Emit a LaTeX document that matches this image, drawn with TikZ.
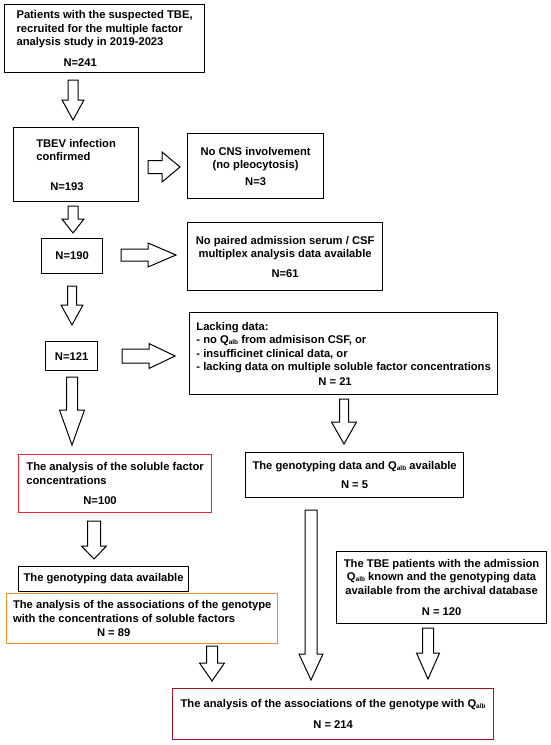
\documentclass[tikz,border=0pt]{standalone}
\usepackage{fontspec}
\setmainfont{Liberation Sans}
\usetikzlibrary{calc}

\definecolor{boxred}{HTML}{E8262F}
\definecolor{boxorange}{HTML}{F78A26}
\definecolor{boxdark}{HTML}{A0142A}

\newcommand{\qalb}{Q\raisebox{-0.15ex}{\fontsize{6.5}{6.5}\selectfont alb}}

% hollow block arrows: start, end, shaft half width, head half width, head length
\newcommand{\downblock}[5]{%
  \draw[blockarrow] let \p1=(#1), \p2=(#2) in
    (\x1-#3,\y1) -- (\x1+#3,\y1) -- (\x1+#3,\y2+#5) -- (\x1+#4,\y2+#5)
    -- (\x1,\y2) -- (\x1-#4,\y2+#5) -- (\x1-#3,\y2+#5) -- cycle;}
\newcommand{\rightblock}[5]{%
  \draw[blockarrow] let \p1=(#1), \p2=(#2) in
    (\x1,\y1+#3) -- (\x2-#5,\y1+#3) -- (\x2-#5,\y1+#4) -- (\x2,\y1)
    -- (\x2-#5,\y1-#4) -- (\x2-#5,\y1-#3) -- (\x1,\y1-#3) -- cycle;}

\tikzset{
  box/.style={draw, line width=1.2pt, anchor=north west, inner sep=2pt,
    font=\fontsize{11.2}{13.5}\selectfont\bfseries},
  blockarrow/.style={draw, line width=1pt, fill=white}
}

\begin{document}
\begin{tikzpicture}[x=1pt, y=-1pt]
    \useasboundingbox (0,0) rectangle (550,745);
    % boxes
    \node[box, align=left, minimum width=200pt, minimum height=68pt] (p241) at (4,4)
      {Patients with the suspected TBE,\\recruited for the multiple factor\\analysis study in 2019-2023\\[7.5pt]\hspace*{47pt}N=241};
    \node[box, align=left, minimum width=125pt, minimum height=74pt] (p193) at (13,127)
      {TBEV infection\\confirmed\\[16pt]\hspace*{14pt}N=193};
    \node[box, align=center, minimum width=136pt, minimum height=65pt] (nocns) at (187,133)
      {No CNS involvement\\(no pleocytosis)\\[3pt]N=3};
    \node[box, minimum width=61pt, minimum height=35pt] (p190) at (41,238) {N=190};
    \node[box, align=center, minimum width=195pt, minimum height=68pt] (nopaired) at (187,222)
      {No paired admission serum / CSF\\multiplex analysis data available\\[6pt]N=61};
    \node[box, minimum width=52pt, minimum height=29pt] (p121) at (45,341) {N=121};
    \node[box, align=left, minimum width=308pt, minimum height=82pt] (lacking) at (189,312)
      {Lacking data:\\- no \qalb{} from admisison CSF, or\\- insufficinet clinical data, or\\- lacking data on multiple soluble\ factor concentrations\\[1pt]\hspace*{122pt}N = 21};
    \node[box, draw=boxred, align=left, minimum width=193pt, minimum height=58pt] (soluble) at (18,454)
      {The analysis of the soluble factor\\concentrations\\[6.5pt]\hspace*{57pt}N=100};
    \node[box, align=center, minimum width=218pt, minimum height=45pt] (genoqalb) at (245,452)
      {The genotyping data and \qalb{} available\\[5.5pt]N = 5};
    \node[box, minimum width=170pt, minimum height=25pt] (genodata) at (18,566) {The genotyping data available};
    \node[box, draw=boxorange, line width=1.4pt, align=left, minimum width=271pt, minimum height=50pt] (assocsol) at (6,593)
      {The analysis of the associations of the genotype\\with the concentrations of soluble factors\\[0.5pt]\hspace*{84pt}N = 89};
    \node[box, align=center, minimum width=210pt, minimum height=72pt] (archival) at (336,551)
      {The TBE patients with the admission\\\qalb{} known and the genotyping data\\available from the archival database\\[8pt]N = 120};
    \node[box, draw=boxdark, align=center, minimum width=321pt, minimum height=51pt] (assocq) at (172,688)
      {The analysis of the associations of the genotype with \qalb\\[7.5pt]N = 214};
    % arrow ends
    \coordinate (a1s) at (73,80);   \coordinate (a1e) at (73,120);
    \coordinate (a2s) at (73,206);  \coordinate (a2e) at (73,233);
    \coordinate (a3s) at (72,286);  \coordinate (a3e) at (72,325);
    \coordinate (a4s) at (72,377);  \coordinate (a4e) at (72,445);
    \coordinate (a5s) at (344,399); \coordinate (a5e) at (344,444);
    \coordinate (a6s) at (94,521);  \coordinate (a6e) at (94,559);
    \coordinate (a7s) at (311,510); \coordinate (a7e) at (311,680);
    \coordinate (a8s) at (428,628); \coordinate (a8e) at (428,679);
    \coordinate (a9s) at (212,646); \coordinate (a9e) at (212,681);
    \coordinate (r1s) at (148,167); \coordinate (r1e) at (180,167);
    \coordinate (r2s) at (121,255); \coordinate (r2e) at (176,255);
    \coordinate (r3s) at (122,356); \coordinate (r3e) at (175,356);
    % arrows
    \downblock{a1s}{a1e}{5pt}{11pt}{20pt}
    \downblock{a2s}{a2e}{5pt}{11pt}{14pt}
    \downblock{a3s}{a3e}{4.5pt}{11pt}{20pt}
    \downblock{a4s}{a4e}{5.5pt}{12.5pt}{35pt}
    \downblock{a5s}{a5e}{4.5pt}{12.5pt}{22pt}
    \downblock{a6s}{a6e}{6.5pt}{12.5pt}{13pt}
    \downblock{a7s}{a7e}{6pt}{12pt}{26pt}
    \downblock{a8s}{a8e}{5.5pt}{11.5pt}{26pt}
    \downblock{a9s}{a9e}{5.5pt}{12.5pt}{18pt}
    \rightblock{r1s}{r1e}{6.5pt}{15pt}{18pt}
    \rightblock{r2s}{r2e}{6pt}{12pt}{28pt}
    \rightblock{r3s}{r3e}{7pt}{12.5pt}{26pt}
\end{tikzpicture}
\end{document}
